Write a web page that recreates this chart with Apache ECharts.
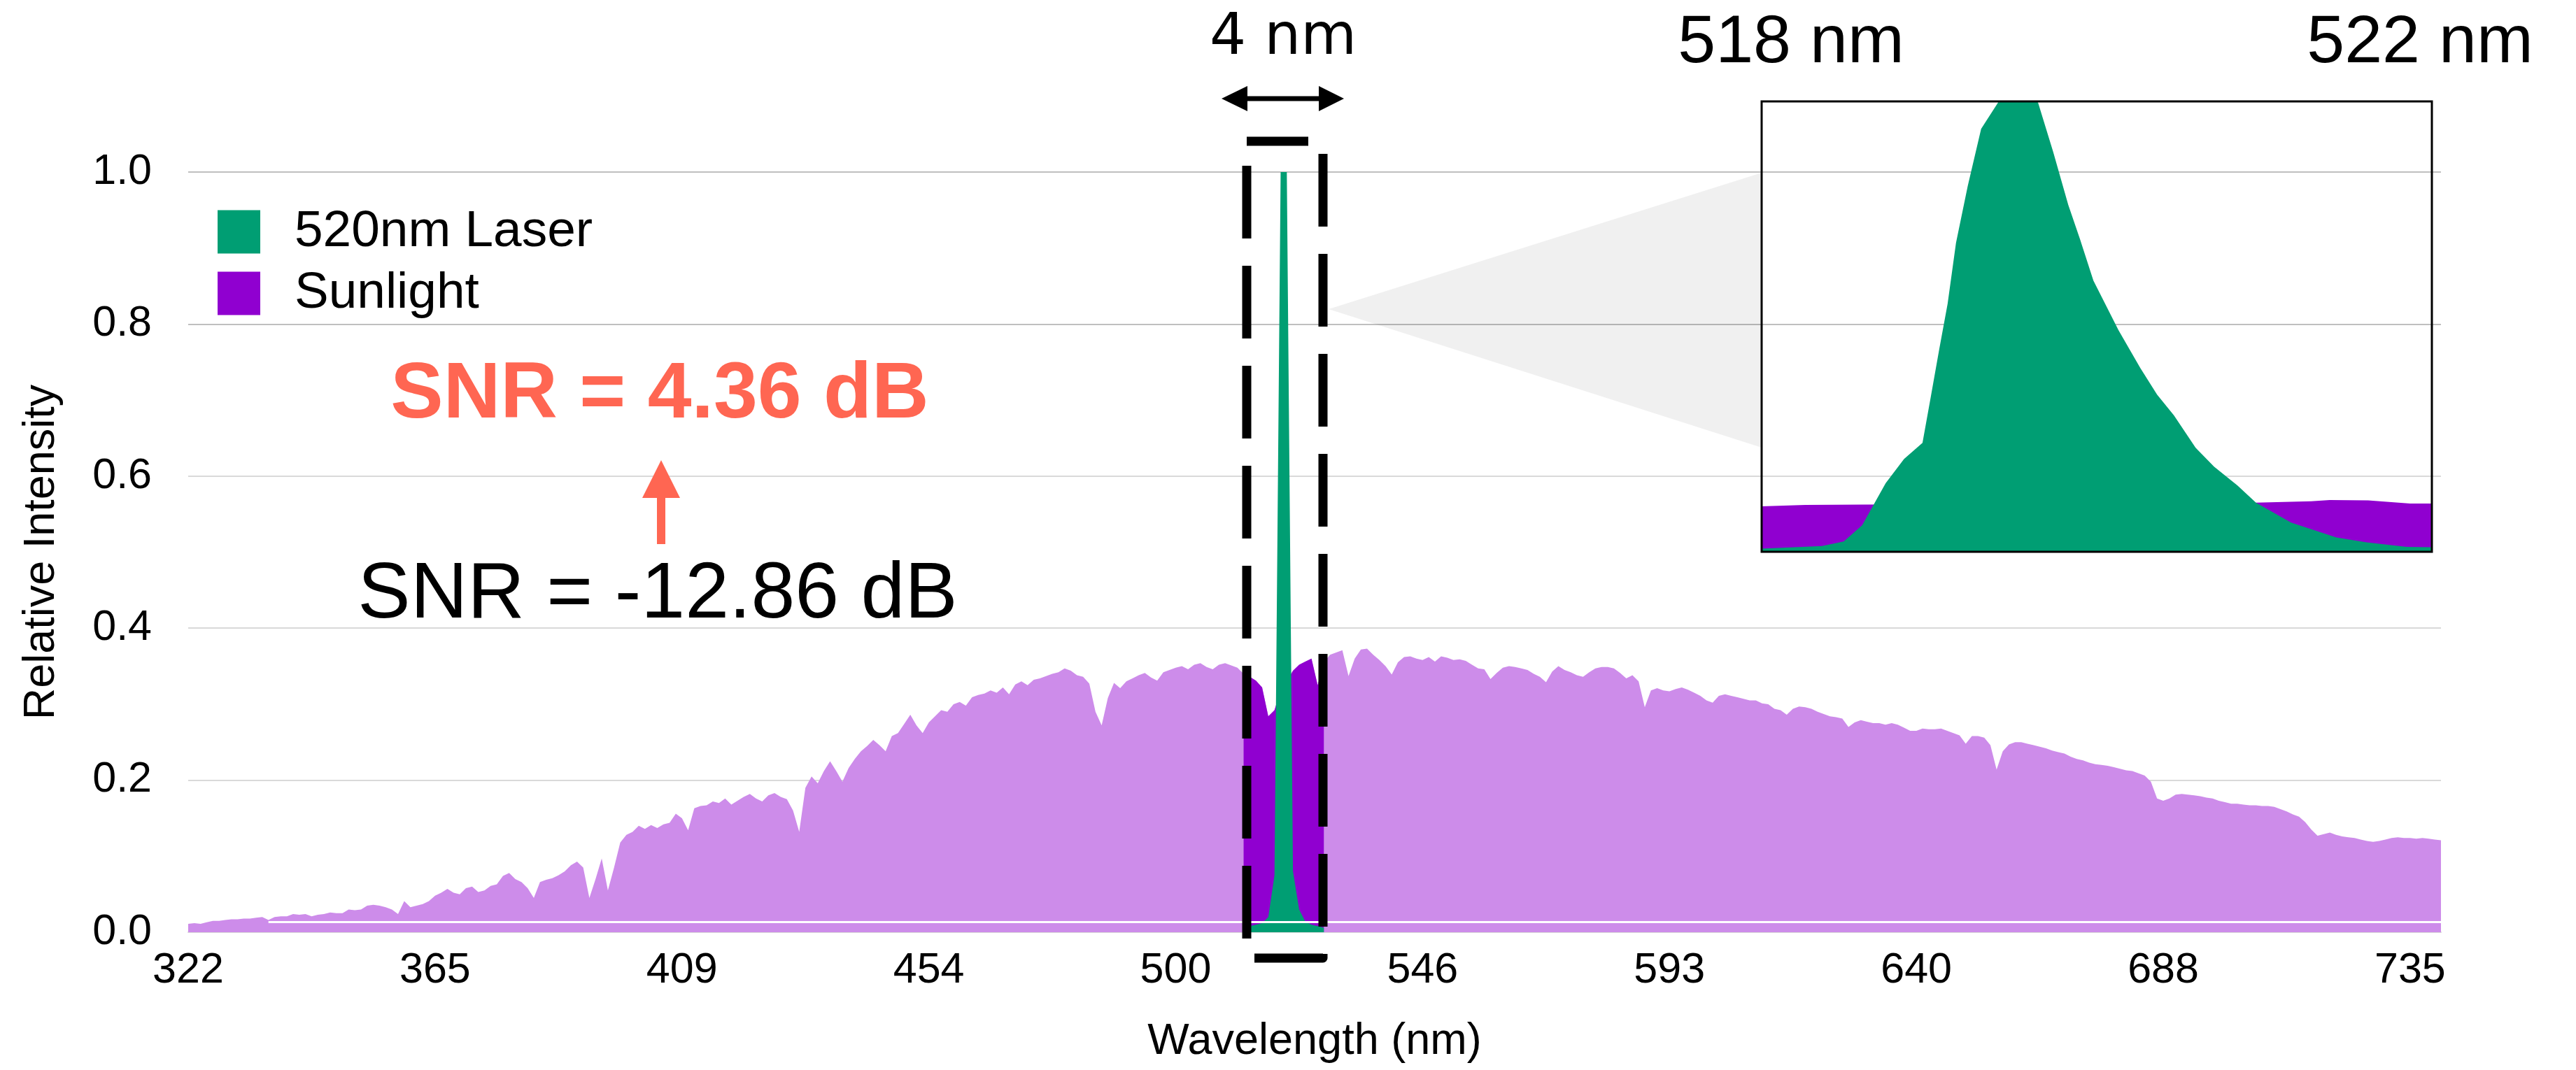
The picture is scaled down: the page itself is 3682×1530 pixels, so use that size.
<!DOCTYPE html>
<html>
<head>
<meta charset="utf-8">
<title>520nm laser vs sunlight</title>
<script src="https://cdn.jsdelivr.net/npm/echarts@6/dist/echarts.min.js"></script>
<style>
  html, body { margin: 0; padding: 0; background: #fff; }
  #chart { width: 3682px; height: 1530px; }
</style>
</head>
<body>
<div id="chart"></div>
<script>
// wavelength labels on the category axis, one every 40 spectrometer samples
const tickWavelengths = [322, 365, 409, 454, 500, 546, 593, 640, 688, 735]
const samplesPerTick = 40

// sunlight spectrum, one value per sample
const sunlight = [
  0.011, 0.012, 0.011, 0.013, 0.015, 0.015, 0.016, 0.017, 0.017, 0.018,
  0.018, 0.019, 0.020, 0.016, 0.020, 0.021, 0.021, 0.024, 0.023, 0.024,
  0.021, 0.023, 0.024, 0.026, 0.025, 0.025, 0.030, 0.029, 0.030, 0.035,
  0.036, 0.035, 0.033, 0.030, 0.024, 0.041, 0.033, 0.035, 0.037, 0.041,
  0.048, 0.052, 0.057, 0.052, 0.050, 0.058, 0.060, 0.053, 0.055, 0.061,
  0.063, 0.074, 0.078, 0.070, 0.066, 0.058, 0.045, 0.066, 0.069, 0.071,
  0.075, 0.080, 0.088, 0.093, 0.085, 0.045, 0.070, 0.097, 0.055, 0.085,
  0.118, 0.128, 0.132, 0.140, 0.136, 0.141, 0.137, 0.142, 0.144, 0.156,
  0.150, 0.134, 0.163, 0.166, 0.167, 0.172, 0.170, 0.176, 0.168, 0.173,
  0.178, 0.182, 0.176, 0.172, 0.180, 0.183, 0.178, 0.175, 0.160, 0.132,
  0.190, 0.205, 0.196, 0.212, 0.225, 0.212, 0.198, 0.216, 0.228, 0.238,
  0.245, 0.253, 0.246, 0.238, 0.258, 0.262, 0.274, 0.286, 0.272, 0.262,
  0.276, 0.284, 0.292, 0.290, 0.300, 0.303, 0.298, 0.309, 0.312, 0.314,
  0.318, 0.315, 0.322, 0.313, 0.326, 0.330, 0.325, 0.332, 0.334, 0.337,
  0.340, 0.342, 0.347, 0.344, 0.338, 0.336, 0.327, 0.290, 0.272, 0.308,
  0.328, 0.321, 0.330, 0.334, 0.338, 0.341, 0.335, 0.331, 0.342, 0.345,
  0.348, 0.350, 0.346, 0.352, 0.354, 0.349, 0.346, 0.352, 0.354, 0.351,
  0.348, 0.340, 0.336, 0.331, 0.322, 0.284, 0.292, 0.318, 0.330, 0.344,
  0.352, 0.356, 0.360, 0.325, 0.355, 0.365, 0.368, 0.371, 0.337, 0.360,
  0.372, 0.373, 0.365, 0.358, 0.350, 0.339, 0.355, 0.362, 0.363, 0.360,
  0.358, 0.362, 0.356, 0.363, 0.361, 0.358, 0.359, 0.357, 0.352, 0.347,
  0.346, 0.333, 0.341, 0.348, 0.350, 0.349, 0.347, 0.345, 0.340, 0.336,
  0.329, 0.343, 0.350, 0.345, 0.342, 0.338, 0.336, 0.342, 0.347, 0.349,
  0.349, 0.347, 0.341, 0.334, 0.338, 0.330, 0.296, 0.318, 0.321, 0.318,
  0.317, 0.320, 0.322, 0.319, 0.315, 0.311, 0.305, 0.302, 0.311, 0.313,
  0.311, 0.309, 0.307, 0.305, 0.305, 0.301, 0.300, 0.294, 0.292, 0.286,
  0.294, 0.297, 0.296, 0.294, 0.290, 0.287, 0.284, 0.283, 0.281, 0.270,
  0.276, 0.279, 0.277, 0.275, 0.275, 0.273, 0.275, 0.273, 0.269, 0.265,
  0.265, 0.268, 0.267, 0.267, 0.268, 0.265, 0.262, 0.259, 0.248, 0.258,
  0.258, 0.256, 0.246, 0.214, 0.238, 0.247, 0.250, 0.250, 0.248, 0.246,
  0.244, 0.242, 0.239, 0.237, 0.235, 0.231, 0.228, 0.226, 0.223, 0.221,
  0.220, 0.219, 0.217, 0.215, 0.213, 0.212, 0.209, 0.206, 0.198, 0.176,
  0.173, 0.176, 0.181, 0.182, 0.181, 0.180, 0.179, 0.177, 0.176, 0.173,
  0.171, 0.169, 0.169, 0.168, 0.167, 0.167, 0.166, 0.166, 0.165, 0.162,
  0.159, 0.155, 0.152, 0.145, 0.135, 0.127, 0.129, 0.131, 0.128, 0.126,
  0.125, 0.124, 0.122, 0.120, 0.119, 0.120, 0.122, 0.124, 0.125, 0.124,
  0.124, 0.123, 0.124, 0.123, 0.122, 0.121,
]

// laser peak, starting at sample laserPeakFrom
const laserPeakFrom = 172
const laserPeak = [0.008, 0.010, 0.012, 0.020, 0.075, 1.0, 1.0, 0.080, 0.030, 0.014, 0.010, 0.008, 0.006]

// samples inside the 4 nm window (drawn dark)
const windowFrom = 171
const windowTo = 184

// zoomed inset 518-522 nm
const insetLaserNm = [518.0, 518.36, 518.49, 518.6, 518.74, 518.85, 518.96, 519.01, 519.06, 519.11, 519.16,
  519.23, 519.31, 519.41, 519.53, 519.65, 519.74, 519.83, 519.9, 519.98, 520.13, 520.26, 520.36, 520.46,
  520.59, 520.7, 520.84, 520.95, 521.16, 521.43, 521.61, 521.85, 522.0]
const insetLaser = [0.007, 0.013, 0.023, 0.059, 0.152, 0.206, 0.242, 0.345, 0.45, 0.551, 0.686,
  0.812, 0.939, 0.997, 1.08, 0.997, 0.888, 0.77, 0.694, 0.602, 0.492, 0.408, 0.349, 0.303,
  0.231, 0.189, 0.147, 0.109, 0.065, 0.032, 0.021, 0.011, 0.01]
const insetSunNm = [518.0, 518.26, 518.6, 519.5, 520.5, 520.95, 521.28, 521.39, 521.62, 521.87, 522.0]
const insetSun = [0.101, 0.104, 0.105, 0.106, 0.108, 0.109, 0.112, 0.115, 0.114, 0.107, 0.107]

const GREEN = '#009e73'
const PURPLE = '#9000d0'
const LIGHT_PURPLE = '#cd8cea'
const CORAL = '#ff6652'
const FONT = "'Liberation Sans', Arial, sans-serif"

// category per sample: wavelength stepping evenly between neighbouring tick labels
const categories = sunlight.map((_, i) => {
  const k = Math.min(Math.floor(i / samplesPerTick), tickWavelengths.length - 2)
  const step = (tickWavelengths[k + 1] - tickWavelengths[k]) / samplesPerTick
  return (tickWavelengths[k] + step * (i - k * samplesPerTick)).toFixed(2)
})

const windowData = sunlight.map((v, i) => (i >= windowFrom && i <= windowTo ? v : null))
const laserData = sunlight.map((_, i) => {
  const j = i - laserPeakFrom
  return j >= 0 && j < laserPeak.length ? laserPeak[j] : null
})

const chart = echarts.init(document.getElementById('chart'))

chart.setOption({
  animation: false,
  backgroundColor: '#fff',
  textStyle: { fontFamily: FONT },
  legend: {
    data: ['520nm Laser', 'Sunlight'],
    orient: 'vertical',
    left: 311,
    top: 295,
    padding: 0,
    icon: 'rect',
    itemWidth: 61,
    itemHeight: 62,
    itemGap: 15,
    textStyle: { fontSize: 73, color: '#000', fontFamily: FONT, padding: [0, 0, 0, 44] },
  },
  grid: [
    { left: 269, right: 193, top: 246, bottom: 197 },
    { left: 2518, top: 145, width: 958, height: 644 },
  ],
  xAxis: [
    {
      type: 'category',
      gridIndex: 0,
      data: categories,
      boundaryGap: false,
      name: 'Wavelength (nm)',
      nameLocation: 'middle',
      nameGap: 125,
      nameTextStyle: { fontSize: 63, color: '#000', fontFamily: FONT },
      axisLine: { show: true, lineStyle: { color: '#d9d9d9', width: 2 } },
      axisTick: { show: false },
      axisLabel: {
        interval: samplesPerTick - 1,
        formatter: (value) => String(Math.round(Number(value))),
        fontSize: 61,
        color: '#000',
        margin: 25,
        fontFamily: FONT,
      },
      splitLine: { show: false },
    },
    { type: 'value', gridIndex: 1, min: 518, max: 522, show: false },
  ],
  yAxis: [
    {
      type: 'value',
      gridIndex: 0,
      min: 0,
      max: 1,
      interval: 0.2,
      name: 'Relative Intensity',
      nameLocation: 'middle',
      nameRotate: 90,
      nameGap: 178,
      nameTextStyle: { fontSize: 63, color: '#000', fontFamily: FONT },
      axisLine: { show: false },
      axisTick: { show: false },
      axisLabel: { formatter: (v) => v.toFixed(1), fontSize: 61, color: '#000', margin: 52, fontFamily: FONT },
      splitLine: {
        lineStyle: { width: 2, color: ['#d9d9d9', '#d9d9d9', '#d9d9d9', '#d9d9d9', '#bfbfbf', '#bfbfbf'] },
      },
    },
    { type: 'value', gridIndex: 1, min: 0, max: 1, show: false },
  ],
  series: [
    {
      name: 'Sunlight',
      type: 'line',
      xAxisIndex: 0,
      yAxisIndex: 0,
      data: sunlight,
      symbol: 'none',
      lineStyle: { width: 0 },
      itemStyle: { color: PURPLE },
      areaStyle: { color: LIGHT_PURPLE, opacity: 1 },
      z: 2,
    },
    {
      name: 'Sunlight window',
      type: 'line',
      xAxisIndex: 0,
      yAxisIndex: 0,
      data: windowData,
      symbol: 'none',
      lineStyle: { width: 0 },
      itemStyle: { color: PURPLE },
      areaStyle: { color: PURPLE, opacity: 1 },
      z: 3,
      markLine: {
        silent: true,
        symbol: ['none', 'none'],
        label: { show: false },
        lineStyle: { color: '#fff', width: 3, type: 'solid' },
        data: [[{ coord: [13, 0.014] }, { coord: [sunlight.length - 1, 0.014] }]],
      },
    },
    {
      name: '520nm Laser',
      type: 'line',
      xAxisIndex: 0,
      yAxisIndex: 0,
      data: laserData,
      symbol: 'none',
      lineStyle: { width: 0 },
      itemStyle: { color: GREEN },
      areaStyle: { color: GREEN, opacity: 1 },
      z: 4,
    },
    {
      name: 'inset sunlight',
      type: 'line',
      xAxisIndex: 1,
      yAxisIndex: 1,
      data: insetSunNm.map((x, i) => [x, insetSun[i]]),
      symbol: 'none',
      lineStyle: { width: 0 },
      itemStyle: { color: PURPLE },
      areaStyle: { color: PURPLE, opacity: 1 },
      z: 3,
    },
    {
      name: 'inset laser',
      type: 'line',
      xAxisIndex: 1,
      yAxisIndex: 1,
      data: insetLaserNm.map((x, i) => [x, insetLaser[i]]),
      symbol: 'none',
      lineStyle: { width: 0 },
      itemStyle: { color: GREEN },
      areaStyle: { color: GREEN, opacity: 1 },
      z: 4,
    },
  ],
  graphic: [
    // zoom cone from the window to the inset
    { type: 'polygon', z: 1, shape: { points: [[1899, 442], [2518, 247], [2518, 640]] }, style: { fill: 'rgba(0,0,0,0.06)' } },
    // inset frame
    { type: 'rect', z: 100, shape: { x: 2518, y: 145, width: 958, height: 644 }, style: { fill: 'none', stroke: '#000', lineWidth: 3 } },
    // dashed 4 nm window
    {
      type: 'rect', z: 100,
      shape: { x: 1782, y: 202, width: 109, height: 1168 },
      style: { fill: 'none', stroke: '#000', lineWidth: 13, lineDash: [104, 39], lineDashOffset: 16, lineJoin: 'round' },
    },
    // double arrow above the window
    { type: 'line', z: 100, shape: { x1: 1775, y1: 141, x2: 1892, y2: 141 }, style: { stroke: '#000', lineWidth: 7 } },
    { type: 'polygon', z: 100, shape: { points: [[1746, 141], [1783, 123], [1783, 159]] }, style: { fill: '#000' } },
    { type: 'polygon', z: 100, shape: { points: [[1921, 141], [1885, 123], [1885, 159]] }, style: { fill: '#000' } },
    {
      type: 'text', z: 100, x: 1834, y: 56,
      style: { text: '4 nm', font: "82px 'DejaVu Sans'", fill: '#000', align: 'center', verticalAlign: 'middle' },
    },
    {
      type: 'text', z: 100, x: 2560, y: 62,
      style: { text: '518 nm', font: `97px ${FONT}`, fill: '#000', align: 'center', verticalAlign: 'middle' },
    },
    {
      type: 'text', z: 100, x: 3459, y: 62,
      style: { text: '522 nm', font: `97px ${FONT}`, fill: '#000', align: 'center', verticalAlign: 'middle' },
    },
    // SNR annotations
    {
      type: 'text', z: 100, x: 943, y: 566,
      style: { text: 'SNR = 4.36 dB', font: `bold 113px ${FONT}`, fill: CORAL, align: 'center', verticalAlign: 'middle' },
    },
    { type: 'rect', z: 100, shape: { x: 939, y: 705, width: 12, height: 73 }, style: { fill: CORAL } },
    { type: 'polygon', z: 100, shape: { points: [[945, 658], [918, 712], [972, 712]] }, style: { fill: CORAL } },
    {
      type: 'text', z: 100, x: 940, y: 852,
      style: { text: 'SNR = -12.86 dB', font: `113px ${FONT}`, fill: '#000', align: 'center', verticalAlign: 'middle' },
    },
  ],
})
</script>
</body>
</html>
